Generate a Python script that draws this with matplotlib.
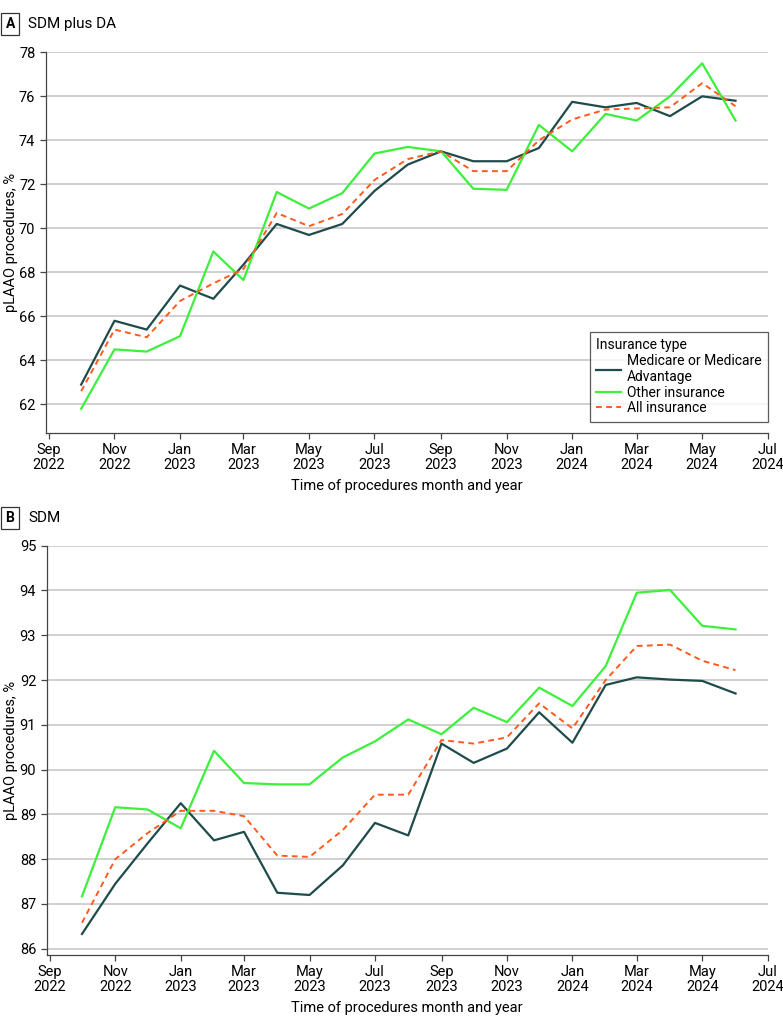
import datetime as dt

import matplotlib
matplotlib.use("Agg")
import matplotlib.pyplot as plt
import matplotlib.dates as mdates

plt.rcParams['font.family'] = ['Roboto', 'DejaVu Sans']
plt.rcParams['font.size'] = 10

# monthly points, Oct 2022 - Jun 2024
months = [dt.date(2022 + (9 + i) // 12, (9 + i) % 12 + 1, 1) for i in range(21)]

a_medicare = [62.9, 65.8, 65.4, 67.4, 66.8, 68.35, 70.2, 69.7, 70.2, 71.7, 72.9,
              73.5, 73.05, 73.05, 73.65, 75.75, 75.5, 75.7, 75.1, 76.0, 75.8]
a_other = [61.8, 64.5, 64.4, 65.1, 68.95, 67.65, 71.65, 70.9, 71.6, 73.4, 73.7,
           73.5, 71.8, 71.75, 74.7, 73.5, 75.2, 74.9, 76.0, 77.5, 74.9]
a_all = [62.6, 65.4, 65.05, 66.7, 67.5, 68.15, 70.7, 70.1, 70.65, 72.2, 73.15,
         73.5, 72.6, 72.6, 74.0, 74.95, 75.4, 75.45, 75.5, 76.6, 75.55]

b_medicare = [86.33, 87.45, 88.35, 89.25, 88.42, 88.61, 87.25, 87.2, 87.86, 88.81, 88.53,
              90.58, 90.15, 90.47, 91.28, 90.6, 91.89, 92.06, 92.01, 91.98, 91.7]
b_other = [87.17, 89.16, 89.11, 88.69, 90.42, 89.7, 89.67, 89.67, 90.27, 90.63, 91.12,
           90.79, 91.38, 91.06, 91.83, 91.42, 92.31, 93.95, 94.01, 93.21, 93.13]
b_all = [86.58, 88.0, 88.58, 89.08, 89.08, 88.96, 88.08, 88.05, 88.65, 89.44, 89.44,
         90.66, 90.58, 90.72, 91.48, 90.92, 92.0, 92.76, 92.79, 92.43, 92.22]

labels = ['Medicare or Medicare\nAdvantage', 'Other insurance', 'All insurance']
colors = ['#1f4b4b', '#3cf03c', '#ff5a1e']

tick_dates = [dt.date(2022 + (8 + 2 * i) // 12, (8 + 2 * i) % 12 + 1, 1) for i in range(12)]
tick_labels = [d.strftime('%b\n%Y') for d in tick_dates]


def draw_panel(ax, med, oth, allv, yticks, ylim):
    ax.plot(months, med, color=colors[0], lw=1.6, label=labels[0], zorder=3)
    ax.plot(months, oth, color=colors[1], lw=1.6, label=labels[1], zorder=3)
    ax.plot(months, allv, color=colors[2], lw=1.4, ls=(0, (3, 2.2)), label=labels[2], zorder=4)
    ax.set_xlim(dt.date(2022, 8, 29), dt.date(2024, 7, 1))
    ax.set_ylim(*ylim)
    ax.set_yticks(yticks)
    ax.set_xticks([mdates.date2num(d) for d in tick_dates])
    ax.set_xticklabels(tick_labels, linespacing=1.05)
    ax.grid(axis='y', color='#c4c4c4', lw=1.1)
    ax.set_axisbelow(True)
    for s in ['top', 'right']:
        ax.spines[s].set_visible(False)
    for s in ['left', 'bottom']:
        ax.spines[s].set_color('#444444')
        ax.spines[s].set_linewidth(0.9)
    ax.tick_params(colors='#444444', labelcolor='black', length=4, width=0.9, labelsize=10.5)
    ax.set_xlabel('Time of procedures month and year', fontsize=10.5, labelpad=5)
    ax.set_ylabel('pLAAO procedures, %', fontsize=10.5)
    ax.yaxis.set_label_coords(-0.039, 0.5)


fig = plt.figure(figsize=(7.83, 10.28), dpi=100)
ax_a = fig.add_axes([0.0584, 0.5788, 0.9221, 0.3703])
ax_b = fig.add_axes([0.0595, 0.0710, 0.9210, 0.3982])

draw_panel(ax_a, a_medicare, a_other, a_all, range(62, 79, 2), (60.7, 78))
draw_panel(ax_b, b_medicare, b_other, b_all, range(86, 96), (85.86, 95))

leg = ax_a.legend(title='Insurance type', loc='lower right', bbox_to_anchor=(1.0, 0.03),
                  borderaxespad=0, frameon=True, fancybox=False, edgecolor='#333333',
                  fontsize=10, title_fontsize=10, handlelength=1.8, handletextpad=0.4,
                  labelspacing=0.12, borderpad=0.45)
leg._legend_box.align = 'left'
leg.get_frame().set_linewidth(0.9)

box = dict(boxstyle='square,pad=0.3', fc='white', ec='#333333', lw=0.9)
fig.text(0.007, 1 - 24 / 1028, 'A', fontweight='bold', fontsize=10, va='center', bbox=box)
fig.text(0.036, 1 - 24 / 1028, 'SDM plus DA', fontsize=11, va='center')
fig.text(0.007, 1 - 518 / 1028, 'B', fontweight='bold', fontsize=10, va='center', bbox=box)
fig.text(0.036, 1 - 518 / 1028, 'SDM', fontsize=11, va='center')

fig.savefig('out.png', dpi=100)
